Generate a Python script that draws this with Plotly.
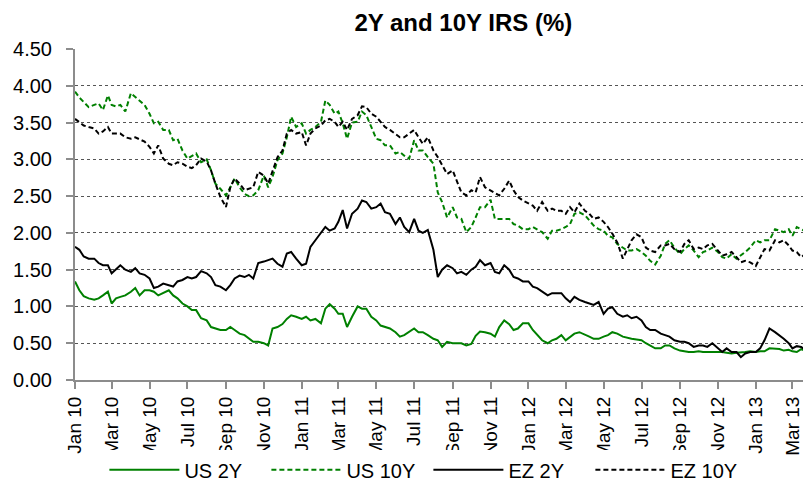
import plotly.graph_objects as go
from datetime import date

# Observation dates: four readings per month (1st, 8th, 15th, 23rd), Jan 2010 - Mar 2013
dates = []
for yr in (2010, 2011, 2012, 2013):
    last_month = 3 if yr == 2013 else 12
    for mo in range(1, last_month + 1):
        days = (1, 8, 15, 20) if (yr == 2013 and mo == 3) else (1, 8, 15, 23)
        for d in days:
            dates.append(date(yr, mo, d).isoformat())

us_10y = [
    3.92, 3.84, 3.78, 3.71, 3.74, 3.76, 3.67, 3.87, 3.74, 3.72, 3.74, 3.65,
    3.90, 3.85, 3.80, 3.74, 3.62, 3.49, 3.51, 3.40, 3.40, 3.26, 3.28, 3.12,
    3.01, 3.05, 3.08, 2.96, 3.00, 2.85, 2.67, 2.60, 2.51, 2.62, 2.74, 2.62,
    2.53, 2.50, 2.51, 2.58, 2.78, 2.62, 2.76, 2.99, 3.08, 3.30, 3.58, 3.44,
    # 2011
    3.49, 3.35, 3.40, 3.44, 3.51, 3.80, 3.74, 3.62, 3.65, 3.49, 3.28, 3.50,
    3.51, 3.65, 3.60, 3.44, 3.28, 3.26, 3.19, 3.19, 3.08, 3.10, 3.05, 3.01,
    3.26, 3.12, 3.12, 3.03, 2.94, 2.55, 2.42, 2.21, 2.35, 2.21, 2.19, 2.01,
    2.08, 2.21, 2.35, 2.35, 2.45, 2.19, 2.19, 2.20, 2.19, 2.12, 2.10, 2.05,
    # 2012
    2.05, 2.08, 2.05, 2.01, 1.92, 2.03, 2.03, 2.05, 2.08, 2.12, 2.26, 2.28,
    2.24, 2.17, 2.10, 2.05, 2.03, 1.96, 1.94, 1.85, 1.80, 1.76, 1.76, 1.78,
    1.74, 1.69, 1.62, 1.57, 1.69, 1.85, 1.90, 1.80, 1.71, 1.78, 1.83, 1.76,
    1.67, 1.74, 1.76, 1.80, 1.74, 1.67, 1.65, 1.71, 1.65, 1.69, 1.74, 1.80,
    # 2013
    1.90, 1.87, 1.90, 1.90, 2.05, 2.03, 2.01, 2.05, 1.96, 2.08, 2.05, 2.03,
]

ez_10y = [
    3.55, 3.50, 3.46, 3.44, 3.42, 3.35, 3.38, 3.44, 3.35, 3.35, 3.35, 3.30,
    3.28, 3.30, 3.27, 3.24, 3.17, 3.08, 3.19, 3.01, 2.94, 2.92, 2.96, 2.94,
    2.90, 2.88, 2.92, 3.01, 2.97, 2.85, 2.67, 2.49, 2.35, 2.62, 2.74, 2.67,
    2.58, 2.60, 2.62, 2.83, 2.78, 2.67, 2.85, 3.03, 3.12, 3.35, 3.40, 3.35,
    # 2011
    3.37, 3.19, 3.35, 3.42, 3.46, 3.53, 3.55, 3.51, 3.44, 3.51, 3.40, 3.55,
    3.60, 3.72, 3.71, 3.62, 3.58, 3.51, 3.44, 3.40, 3.35, 3.30, 3.30, 3.35,
    3.40, 3.30, 3.21, 3.30, 3.12, 3.03, 2.92, 2.80, 2.85, 2.71, 2.55, 2.51,
    2.58, 2.55, 2.76, 2.62, 2.58, 2.55, 2.51, 2.60, 2.71, 2.58, 2.49, 2.44,
    # 2012
    2.40, 2.37, 2.30, 2.42, 2.30, 2.33, 2.30, 2.30, 2.26, 2.35, 2.28, 2.40,
    2.30, 2.26, 2.19, 2.21, 2.15, 2.08, 1.99, 1.87, 1.65, 1.78, 1.90, 1.98,
    1.94, 1.80, 1.76, 1.74, 1.83, 1.83, 1.85, 1.78, 1.74, 1.85, 1.90, 1.78,
    1.80, 1.78, 1.83, 1.85, 1.76, 1.69, 1.71, 1.74, 1.67, 1.60, 1.62, 1.60,
    # 2013
    1.55, 1.67, 1.78, 1.76, 1.90, 1.87, 1.90, 1.83, 1.76, 1.74, 1.67, 1.70,
]

us_2y = [
    1.34, 1.22, 1.14, 1.11, 1.09, 1.11, 1.15, 1.20, 1.04, 1.11, 1.13, 1.15,
    1.20, 1.25, 1.15, 1.22, 1.22, 1.20, 1.15, 1.18, 1.22, 1.15, 1.11, 1.04,
    1.00, 0.95, 0.95, 0.84, 0.81, 0.72, 0.70, 0.68, 0.68, 0.72, 0.68, 0.63,
    0.61, 0.56, 0.52, 0.52, 0.50, 0.47, 0.70, 0.72, 0.76, 0.83, 0.88, 0.86,
    # 2011
    0.83, 0.86, 0.81, 0.83, 0.77, 0.97, 1.03, 0.97, 0.90, 0.90, 0.72, 0.86,
    1.00, 0.97, 0.97, 0.86, 0.81, 0.74, 0.72, 0.70, 0.65, 0.59, 0.61, 0.65,
    0.70, 0.65, 0.65, 0.61, 0.56, 0.54, 0.45, 0.52, 0.50, 0.50, 0.50, 0.47,
    0.49, 0.60, 0.66, 0.65, 0.63, 0.59, 0.72, 0.81, 0.76, 0.68, 0.70, 0.77,
    # 2012
    0.77, 0.68, 0.61, 0.54, 0.50, 0.54, 0.56, 0.61, 0.54, 0.59, 0.63, 0.65,
    0.61, 0.59, 0.56, 0.56, 0.59, 0.61, 0.65, 0.63, 0.59, 0.57, 0.56, 0.55,
    0.54, 0.50, 0.47, 0.43, 0.43, 0.47, 0.47, 0.43, 0.40, 0.39, 0.38, 0.38,
    0.39, 0.38, 0.38, 0.38, 0.39, 0.38, 0.37, 0.36, 0.37, 0.38, 0.38, 0.39,
    # 2013
    0.38, 0.39, 0.39, 0.43, 0.43, 0.42, 0.40, 0.41, 0.39, 0.38, 0.42, 0.40,
]

ez_2y = [
    1.81, 1.77, 1.68, 1.65, 1.65, 1.59, 1.56, 1.56, 1.45, 1.50, 1.56, 1.50,
    1.47, 1.52, 1.45, 1.43, 1.38, 1.25, 1.27, 1.31, 1.29, 1.27, 1.34, 1.36,
    1.40, 1.38, 1.40, 1.48, 1.45, 1.40, 1.29, 1.27, 1.22, 1.29, 1.38, 1.42,
    1.40, 1.43, 1.38, 1.59, 1.61, 1.63, 1.65, 1.58, 1.54, 1.72, 1.74, 1.65,
    # 2011
    1.56, 1.58, 1.81, 1.90, 2.01, 2.08, 2.03, 2.06, 2.15, 2.31, 2.06, 2.26,
    2.33, 2.44, 2.42, 2.33, 2.35, 2.40, 2.28, 2.26, 2.12, 2.21, 2.08, 2.01,
    2.19, 2.03, 2.00, 2.04, 1.77, 1.40, 1.50, 1.56, 1.52, 1.45, 1.47, 1.43,
    1.50, 1.54, 1.63, 1.56, 1.59, 1.47, 1.45, 1.56, 1.50, 1.40, 1.38, 1.34,
    # 2012
    1.34, 1.27, 1.25, 1.20, 1.15, 1.18, 1.18, 1.18, 1.11, 1.06, 1.13, 1.09,
    1.06, 1.04, 1.02, 1.06, 0.90, 0.97, 0.99, 0.90, 0.86, 0.88, 0.84, 0.86,
    0.81, 0.72, 0.68, 0.68, 0.63, 0.61, 0.59, 0.54, 0.52, 0.52, 0.50, 0.45,
    0.47, 0.47, 0.45, 0.50, 0.43, 0.38, 0.43, 0.38, 0.38, 0.31, 0.36, 0.38,
    # 2013
    0.38, 0.43, 0.54, 0.70, 0.65, 0.61, 0.56, 0.50, 0.43, 0.46, 0.45, 0.42,
]

GREEN = "#008000"
BLACK = "#000000"
FONT = "Arial, 'Liberation Sans', sans-serif"

series = [
    ("US 2Y", us_2y, GREEN, "solid"),
    ("US 10Y", us_10y, GREEN, "5px,3px"),
    ("EZ 2Y", ez_2y, BLACK, "solid"),
    ("EZ 10Y", ez_10y, BLACK, "5px,3px"),
]

fig = go.Figure()
for name, vals, col, dash in series:
    fig.add_trace(go.Scatter(
        x=dates, y=vals, name=name, mode="lines",
        line=dict(color=col, width=2, dash=dash),
    ))

fig.update_layout(
    width=803, height=492,
    margin=dict(l=75, r=0, t=49, b=112, autoexpand=False),
    paper_bgcolor="white", plot_bgcolor="white",
    font=dict(family=FONT, size=19, color="#000000"),
    title=dict(text="<b>2Y and 10Y IRS (%)</b>", x=0.577, xanchor="center",
               xref="container", y=0.955, yanchor="middle",
               font=dict(size=24, family=FONT)),
    showlegend=True,
    legend=dict(orientation="h", xref="container", x=0.13, xanchor="left",
                yref="container", y=0.045, yanchor="middle",
                font=dict(size=20, family=FONT), itemwidth=70,
                entrywidth=77, entrywidthmode="pixels",
                traceorder="normal", tracegroupgap=0),
)

fig.update_xaxes(
    type="date",
    range=["2010-01-01", "2013-03-18"],
    tick0="2010-01-01", dtick="M2", tickformat="%b %y",
    tickangle=-90, automargin=False,
    showgrid=False,
    showline=True, linecolor="#8c8c8c", linewidth=2,
    ticks="outside", ticklen=7, tickcolor="#8c8c8c", tickwidth=1.5,
    tickfont=dict(size=19, family=FONT),
)

fig.update_yaxes(
    range=[0, 4.5], dtick=0.5, tick0=0, tickformat=".2f",
    automargin=False,
    showgrid=True, gridcolor="#555555", gridwidth=1, griddash="dot",
    showline=True, linecolor="#8c8c8c", linewidth=2,
    ticks="outside", ticklen=7, tickcolor="#8c8c8c", tickwidth=1.5,
    ticklabelstandoff=10,
    tickfont=dict(size=20, family=FONT),
    zeroline=False,
)

fig.write_html("out.html", config={"displayModeBar": False},
               post_script="document.body.style.margin='0px';")
